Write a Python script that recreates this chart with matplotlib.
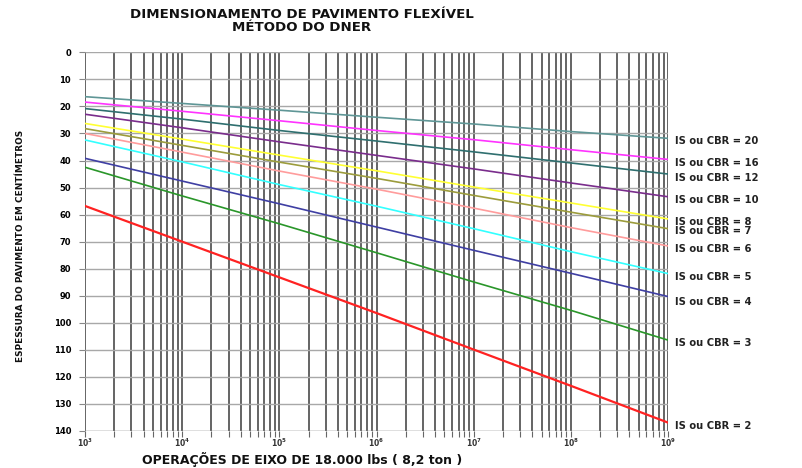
"""
Dimensionamento de pavimento flexível - método do DNER
Ábaco espessura x número de operações do eixo padrão
"""

import matplotlib
matplotlib.use("Agg")
import matplotlib.pyplot as plt
from matplotlib.ticker import LogLocator, NullFormatter, FixedLocator

# operações do eixo padrão (N)
operacoes = [1e3, 1e4, 1e5, 1e6, 1e7, 1e8, 1e9]

# espessura lida em cada década (cm), por IS/CBR
cbr_valores = [20, 16, 12, 10, 8, 7, 6, 5, 4, 3, 2]
espessuras = {
    20: [16.4, 18.9, 21.4, 24.0, 26.5, 29.3, 31.8],
    16: [18.4, 21.8, 25.3, 28.9, 32.3, 36.0, 39.6],
    12: [20.8, 24.7, 28.9, 32.8, 36.8, 40.9, 45.0],
    10: [22.9, 27.9, 33.1, 38.1, 43.1, 48.3, 53.4],
    8: [26.3, 32.1, 38.0, 43.8, 49.8, 55.7, 61.6],
    7: [28.2, 34.4, 40.6, 46.6, 52.9, 59.1, 65.2],
    6: [30.0, 36.9, 43.9, 50.6, 57.6, 64.8, 71.6],
    5: [32.4, 40.5, 48.9, 56.9, 65.2, 73.7, 81.8],
    4: [39.2, 47.6, 56.0, 64.6, 73.2, 81.7, 90.3],
    3: [42.5, 53.1, 63.4, 74.1, 84.9, 95.4, 106.4],
    2: [56.8, 70.0, 83.2, 96.4, 109.9, 123.3, 136.9],
}

# posição vertical dos rótulos à direita (cm, na escala do gráfico)
rotulo_y = {20: 32.8, 16: 40.8, 12: 46.5, 10: 54.6, 8: 62.6, 7: 65.9,
            6: 72.7, 5: 83.0, 4: 92.4, 3: 107.4, 2: 138.2}

cores = {
    20: '#5f9696', 16: '#ff33ff', 12: '#2f6f6f', 10: '#7a2d8c',
    8: '#ffff33', 7: '#9c9c3c', 6: '#ff9c9c', 5: '#33ffff',
    4: '#3f3fa3', 3: '#2a962a', 2: '#ff2222',
}

fig = plt.figure(figsize=(8.03, 4.68), dpi=100)
ax = fig.add_axes([0.1059, 0.0791, 0.7260, 0.8091])

for cbr in cbr_valores:
    lw = 1.6 if cbr == 2 else 1.2
    ax.plot(operacoes, espessuras[cbr], color=cores[cbr], linewidth=lw, zorder=3)
    ax.text(1.012, rotulo_y[cbr], f'IS ou CBR = {cbr}',
            transform=ax.get_yaxis_transform(), fontsize=7.2,
            fontweight='bold', va='center', ha='left', color='#222222')

ax.set_xscale('log')
ax.set_xlim(1e3, 1e9)
ax.set_ylim(140, 0)

# grade vertical escura em todas as subdivisões
ax.xaxis.set_major_locator(FixedLocator(operacoes))
ax.xaxis.set_minor_locator(LogLocator(base=10, subs=range(2, 10), numticks=100))
ax.xaxis.set_minor_formatter(NullFormatter())
ax.grid(True, which='both', axis='x', color='#4a4a4a', linewidth=1.2, zorder=1)

ax.yaxis.set_major_locator(FixedLocator(range(0, 141, 10)))
ax.grid(True, which='major', axis='y', color='#a8a8a8', linewidth=1.0, zorder=1)

for s in ax.spines.values():
    s.set_visible(False)
ax.axhline(140, color='#a8a8a8', linewidth=1.0, zorder=1)

ax.tick_params(axis='y', which='major', length=4, width=0.8, color='#888888',
               labelsize=6, pad=6)
ax.tick_params(axis='x', which='both', length=4, width=0.8, color='#666666',
               labelsize=5.5, pad=0, labelcolor='#333333')
for lab in ax.get_yticklabels():
    lab.set_fontweight('bold')
for lab in ax.get_xticklabels():
    lab.set_fontweight('bold')

# rótulos dos eixos
fig.text(0.376, 0.019, 'OPERAÇÕES DE EIXO DE 18.000 lbs ( 8,2 ton )', fontsize=9,
         fontweight='bold', ha='center', va='center', color='#111111')
fig.text(0.026, 0.474, 'ESPESSURA DO PAVIMENTO EM CENTÍMETROS', fontsize=6.4,
         fontweight='bold', ha='center', va='center', rotation=90, color='#111111')

fig.text(0.376, 0.968, 'DIMENSIONAMENTO DE PAVIMENTO FLEXÍVEL', fontsize=9.6,
         fontweight='bold', ha='center', va='center', color='#111111')
fig.text(0.376, 0.941, 'MÉTODO DO DNER', fontsize=9.6,
         fontweight='bold', ha='center', va='center', color='#111111')

plt.savefig('out.png', dpi=100)
